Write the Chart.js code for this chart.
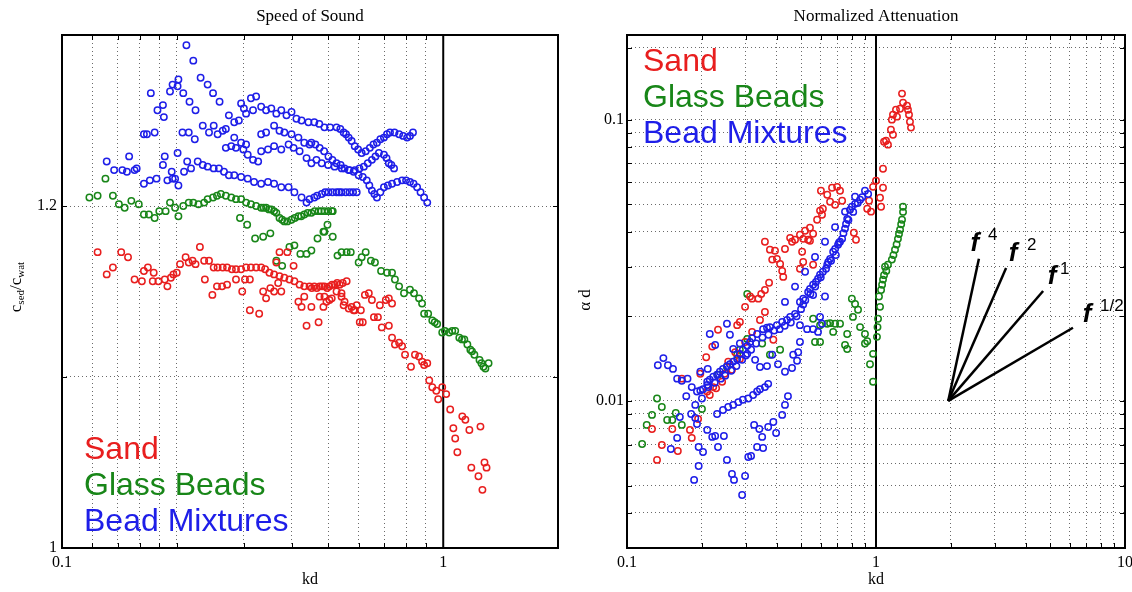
<!DOCTYPE html>
<html>
<head>
<meta charset="utf-8">
<title>Speed of Sound / Normalized Attenuation</title>
<script src="https://cdn.jsdelivr.net/npm/chart.js@4.4.1/dist/chart.umd.min.js"></script>
<style>
  html, body { margin: 0; padding: 0; background: #fff; overflow: hidden; }
  #wrap { position: relative; width: 1132px; height: 592px; }
  canvas { position: absolute; top: 0; }
  #sos { left: 0; }
  #att { left: 566px; }
</style>
</head>
<body>
<div id="wrap">
  <canvas id="sos" width="566" height="592"></canvas>
  <canvas id="att" width="580" height="592"></canvas>
</div>
<script>
// ---- Data: left panel, speed of sound ratio vs kd ----
const sosSand = [
  [0.124,1.173],[0.131,1.160],[0.136,1.164],[0.143,1.173],[0.149,1.170],[0.155,1.157],[0.162,1.156],
  [0.164,1.162],[0.168,1.164],[0.174,1.161],[0.173,1.156],[0.179,1.156],[0.186,1.157],[0.189,1.153],
  [0.193,1.158],[0.196,1.160],[0.200,1.161],[0.204,1.166],[0.211,1.170],[0.215,1.167],[0.220,1.168],
  [0.224,1.166],[0.230,1.176],[0.236,1.168],[0.243,1.168],[0.250,1.164],[0.256,1.164],[0.264,1.164],
  [0.271,1.164],[0.279,1.163],[0.286,1.163],[0.295,1.163],[0.304,1.164],[0.313,1.164],[0.323,1.164],
  [0.333,1.164],[0.341,1.163],[0.350,1.161],[0.360,1.160],[0.372,1.159],[0.383,1.158],[0.395,1.157],
  [0.407,1.156],[0.420,1.154],[0.432,1.153],[0.446,1.153],[0.459,1.153],[0.474,1.153],[0.488,1.153],
  [0.503,1.153],[0.519,1.154],[0.535,1.154],[0.558,1.156],
  [0.452,1.152],[0.466,1.152],[0.481,1.153],[0.496,1.152],[0.511,1.154],[0.527,1.155],[0.545,1.155],
  [0.237,1.157],[0.248,1.148],[0.255,1.153],[0.263,1.153],[0.271,1.154],[0.286,1.157],[0.297,1.150],
  [0.302,1.157],[0.311,1.157],[0.311,1.139],[0.329,1.137],[0.337,1.150],[0.343,1.146],[0.352,1.152],
  [0.360,1.150],[0.369,1.155],[0.376,1.150],[0.372,1.173],[0.390,1.173],[0.365,1.167],[0.405,1.165],
  [0.417,1.144],[0.425,1.141],[0.432,1.147],[0.451,1.141],[0.438,1.130],[0.471,1.132],[0.474,1.147],
  [0.485,1.141],[0.494,1.144],[0.510,1.146],[0.541,1.149],[0.551,1.144],[0.575,1.141],[0.586,1.139],
  [0.604,1.132],
  [0.488,1.147],[0.503,1.145],[0.525,1.150],[0.541,1.147],[0.548,1.142],[0.565,1.140],[0.582,1.139],
  [0.593,1.142],[0.608,1.139],[0.615,1.132],[0.623,1.148],[0.638,1.149],[0.650,1.145],[0.658,1.135],
  [0.674,1.135],[0.682,1.142],[0.690,1.129],[0.707,1.145],[0.720,1.146],[0.734,1.143],[0.720,1.130],
  [0.734,1.123],[0.747,1.119],[0.766,1.120],[0.780,1.118],[0.794,1.113],[0.823,1.106],[0.843,1.113],
  [0.864,1.112],[0.880,1.109],[0.908,1.108],[0.891,1.107],[0.919,1.098],[0.936,1.094],[0.959,1.092],
  [0.970,1.087],[0.994,1.094],[1.018,1.090],[1.043,1.081],[1.122,1.077],[1.143,1.075],[1.171,1.069],
  [1.252,1.071],[1.063,1.070],[1.075,1.064],[1.089,1.056],[1.185,1.047],[1.237,1.042],[1.283,1.050],
  [1.299,1.047],[1.267,1.034]
];
const sosGlass = [
  [0.130,1.216],[0.118,1.205],[0.124,1.206],[0.136,1.206],[0.141,1.201],[0.146,1.199],[0.152,1.203],
  [0.159,1.201],[0.164,1.195],[0.169,1.195],[0.175,1.193],[0.180,1.197],[0.187,1.197],[0.192,1.202],
  [0.198,1.199],[0.202,1.194],[0.208,1.200],[0.215,1.202],[0.221,1.202],[0.228,1.201],[0.236,1.202],
  [0.241,1.204],[0.249,1.205],[0.255,1.206],[0.261,1.207],[0.269,1.206],[0.278,1.205],[0.286,1.204],
  [0.295,1.204],[0.304,1.202],[0.313,1.201],[0.323,1.200],[0.333,1.199],[0.343,1.199],[0.354,1.198],
  [0.365,1.196],[0.372,1.193],[0.383,1.191],[0.400,1.192],[0.417,1.194],[0.432,1.195],[0.451,1.196],
  [0.471,1.197],[0.488,1.197],[0.510,1.197],[0.513,1.197],
  [0.338,1.199],[0.349,1.198],[0.360,1.197],[0.378,1.192],[0.390,1.191],[0.408,1.193],[0.424,1.194],
  [0.441,1.196],[0.460,1.197],[0.479,1.197],[0.499,1.197],
  [0.293,1.193],[0.306,1.189],[0.321,1.181],[0.337,1.182],[0.352,1.184],[0.365,1.168],[0.378,1.165],
  [0.395,1.176],[0.407,1.177],[0.422,1.172],[0.438,1.172],[0.451,1.174],[0.468,1.181],[0.485,1.185],
  [0.497,1.189],[0.513,1.182],[0.488,1.185],[0.528,1.171],[0.541,1.173],[0.558,1.173],[0.572,1.173],
  [0.600,1.167],[0.611,1.170],[0.626,1.173],[0.646,1.168],[0.662,1.167],[0.687,1.162],[0.712,1.161],
  [0.734,1.161],[0.747,1.157],[0.766,1.153],[0.789,1.149],[0.818,1.151],[0.838,1.149],[0.864,1.146],
  [0.880,1.143],[0.891,1.137],[0.913,1.137],[0.936,1.133],[0.964,1.131],[0.994,1.126],[1.037,1.126],
  [1.075,1.127],[1.102,1.123],[1.136,1.122],[1.157,1.119],[1.178,1.116],[1.207,1.113],[1.245,1.110],
  [1.275,1.106],[1.315,1.108],
  [0.950,1.132],[1.010,1.127],[1.056,1.127],[1.120,1.122],[1.190,1.115],[1.260,1.108],[1.290,1.105]
];
const sosMix = [
  [0.131,1.226],[0.137,1.221],[0.144,1.221],[0.148,1.220],[0.150,1.229],[0.155,1.221],[0.157,1.222],
  [0.164,1.213],[0.170,1.215],[0.177,1.216],[0.184,1.224],[0.186,1.229],[0.164,1.242],[0.167,1.242],
  [0.175,1.243],[0.171,1.266],[0.178,1.256],[0.184,1.259],[0.185,1.252],[0.192,1.267],[0.195,1.271],
  [0.201,1.270],[0.202,1.274],[0.212,1.294],[0.221,1.285],[0.231,1.275],[0.241,1.271],[0.249,1.266],
  [0.259,1.261],[0.208,1.266],[0.216,1.261],[0.224,1.256],[0.189,1.215],[0.195,1.216],[0.198,1.216],
  [0.202,1.212],[0.194,1.220],[0.201,1.231],[0.207,1.243],[0.215,1.243],[0.223,1.239],[0.209,1.220],
  [0.213,1.226],[0.218,1.222],
  [0.234,1.247],[0.243,1.243],[0.250,1.247],[0.256,1.242],[0.264,1.244],[0.269,1.245],[0.274,1.253],
  [0.283,1.249],[0.291,1.250],[0.295,1.260],[0.300,1.257],[0.313,1.263],[0.323,1.264],
  [0.304,1.254],[0.317,1.256],[0.333,1.258],[0.343,1.256],[0.354,1.257],[0.365,1.254],[0.376,1.256],
  [0.388,1.253],[0.400,1.255],[0.412,1.251],[0.425,1.250],[0.443,1.249],[0.459,1.249],[0.488,1.246],
  [0.525,1.246],[0.548,1.243],[0.565,1.240],[0.586,1.235],[0.611,1.231],[0.642,1.234],[0.670,1.237],
  [0.699,1.240],[0.725,1.243],[0.766,1.242],[0.804,1.240],[0.833,1.243],
  [0.473,1.248],[0.505,1.246],[0.537,1.245],[0.556,1.242],[0.575,1.238],[0.598,1.233],[0.626,1.232],
  [0.656,1.236],[0.684,1.239],[0.712,1.242],[0.745,1.243],[0.785,1.241],[0.818,1.241],
  [0.269,1.234],[0.278,1.235],[0.286,1.234],[0.299,1.233],[0.307,1.230],[0.317,1.227],[0.327,1.226],
  [0.333,1.232],[0.347,1.233],[0.360,1.235],[0.376,1.233],[0.393,1.236],[0.405,1.234],[0.420,1.232],
  [0.438,1.228],[0.451,1.225],
  [0.480,1.225],[0.519,1.223],[0.565,1.221],[0.600,1.218],[0.630,1.215],[0.650,1.209],[0.670,1.205],
  [0.699,1.211],[0.734,1.213],[0.780,1.215],[0.818,1.214],[0.854,1.211],[0.891,1.205],[0.908,1.202],
  [0.465,1.227],[0.499,1.224],[0.542,1.222],[0.582,1.220],[0.615,1.217],[0.640,1.212],[0.660,1.207],
  [0.684,1.208],[0.716,1.212],[0.757,1.214],[0.799,1.215],[0.836,1.213],[0.872,1.208],
  [0.283,1.240],[0.295,1.237],[0.304,1.236],[0.333,1.242],[0.343,1.243],[0.360,1.247],[0.372,1.244],
  [0.383,1.243],[0.400,1.242],[0.417,1.240],[0.432,1.237],[0.446,1.236],
  [0.451,1.237],[0.474,1.234],[0.500,1.229],[0.525,1.225],[0.551,1.222],[0.586,1.221],[0.619,1.223],
  [0.650,1.227],[0.678,1.231],[0.699,1.230],[0.720,1.225],[0.743,1.222],
  [0.462,1.236],[0.487,1.232],[0.512,1.227],[0.538,1.224],[0.568,1.221],[0.603,1.222],[0.634,1.225],
  [0.664,1.229],[0.710,1.228],[0.731,1.224],
  [0.227,1.226],[0.234,1.224],[0.241,1.223],[0.250,1.222],[0.258,1.222],[0.266,1.220],[0.274,1.218],
  [0.283,1.218],[0.295,1.217],[0.307,1.216],[0.319,1.214],[0.333,1.213],[0.347,1.214],[0.360,1.213],
  [0.376,1.211],[0.393,1.211],[0.407,1.208],[0.425,1.205],[0.438,1.202],[0.446,1.204],[0.459,1.205],
  [0.480,1.207],[0.500,1.208],[0.525,1.208],[0.541,1.208],[0.568,1.208],[0.593,1.208],
  [0.467,1.206],[0.490,1.208],[0.512,1.208],[0.533,1.208],[0.555,1.208],[0.580,1.208]
];

// ---- Data: right panel, normalized attenuation vs kd ----
const attSand = [
  [0.601,0.0559],[0.637,0.0541],[0.666,0.0573],[0.698,0.0577],[0.717,0.0559],[0.654,0.0511],[0.685,0.0498],
  [0.731,0.0515],[0.612,0.0482],[0.596,0.0475],[0.580,0.0441],[0.607,0.0459],[0.543,0.0413],[0.519,0.0403],
  [0.495,0.0390],[0.473,0.0374],[0.452,0.0380],[0.431,0.0347],[0.460,0.0368],[0.510,0.0377],[0.534,0.0374],
  [0.559,0.0393],[0.358,0.0368],[0.375,0.0345],[0.393,0.0342],[0.383,0.0318],[0.400,0.0320],[0.412,0.0307],
  [0.420,0.0290],[0.424,0.0276],[0.543,0.0371],[0.505,0.0339],[0.495,0.0295],[0.559,0.0305],[0.372,0.0263],
  [0.358,0.0248],[0.346,0.0240],[0.312,0.0235],[0.337,0.0231],[0.815,0.0396],[0.831,0.0374],[0.510,0.0312],
  [1.272,0.1238],[1.284,0.1150],[1.332,0.1121],[1.344,0.1085],[1.249,0.1094],[1.203,0.1085],[1.170,0.1042],
  [1.158,0.1000],[1.214,0.1025],[1.357,0.1042],[1.369,0.0984],[1.382,0.0937],[1.148,0.0921],[1.170,0.0884],
  [1.097,0.0842],[1.117,0.0815],[1.077,0.0835],[1.067,0.0669],[1.000,0.0607],[0.973,0.0577],[1.067,0.0573],
  [1.038,0.0528],[1.048,0.0490],[0.938,0.0515],[0.922,0.0482],[0.955,0.0471],
  [0.132,0.00617],[0.126,0.00795],[0.138,0.00697],[0.152,0.00795],[0.160,0.00664],[0.179,0.00789],[0.182,0.00739],
  [0.193,0.00863],[0.210,0.0108],[0.222,0.0112],[0.247,0.0125],[0.264,0.0129],[0.284,0.0141],[0.166,0.0120],
  [0.197,0.0125],[0.208,0.0143],[0.220,0.0156],[0.232,0.0179],[0.277,0.0186],[0.284,0.0191],[0.298,0.0216],
  [0.318,0.0231],[0.387,0.0165],[0.255,0.0138],[0.272,0.0149],[0.298,0.0162],[0.318,0.0176],[0.342,0.0194],
  [0.358,0.0207],[0.215,0.0105],[0.228,0.0111],[0.241,0.0117]
];
const attGlass = [
  [0.115,0.00703],[0.120,0.00822],[0.126,0.00892],[0.132,0.0102],[0.138,0.00952],[0.145,0.00856],[0.152,0.00856],
  [0.157,0.00906],[0.166,0.00822],[0.200,0.00936],[0.232,0.0124],[0.252,0.0132],[0.277,0.0146],[0.284,0.0152],
  [0.304,0.0166],[0.349,0.0160],[0.375,0.0146],[0.412,0.0152],[0.559,0.0196],[0.596,0.0186],[0.637,0.0188],
  [0.654,0.0189],[0.685,0.0188],[0.717,0.0188],[0.766,0.0173],[0.808,0.0199],[0.863,0.0183],[0.922,0.0163],
  [0.903,0.0173],[0.973,0.0147],[0.946,0.0135],[0.973,0.0117],[0.800,0.0231],[0.824,0.0221],[0.847,0.0211],
  [0.751,0.0158],[0.766,0.0153],[0.596,0.0162],[0.569,0.0162],[0.673,0.0176],[0.304,0.0240],
  [1.284,0.0490],[1.272,0.0441],[1.249,0.0406],[1.225,0.0377],[1.192,0.0345],[1.158,0.0318],[1.117,0.0305],
  [1.087,0.0300],[1.067,0.0270],[1.058,0.0259],[1.028,0.0235],[1.019,0.0196],[1.009,0.0169],[0.903,0.0160],
  [1.038,0.0216],[1.284,0.0470],[1.262,0.0425],[1.237,0.0392],[1.210,0.0360],[1.175,0.0330],[1.100,0.0290],
  [1.077,0.0280],[1.048,0.0248],[1.014,0.0183]
];
const attMix = [
  [0.903,0.0559],[0.863,0.0519],[0.824,0.0502],[0.786,0.0478],[0.766,0.0444],[0.751,0.0410],[0.731,0.0377],
  [0.704,0.0359],[0.673,0.0339],[0.654,0.0320],[0.637,0.0305],[0.612,0.0288],[0.585,0.0272],[0.559,0.0259],
  [0.534,0.0244],[0.510,0.0231],[0.559,0.0238],[0.510,0.0220],[0.473,0.0204],[0.439,0.0194],[0.400,0.0186],
  [0.375,0.0183],[0.352,0.0180],[0.333,0.0173],[0.312,0.0162],[0.292,0.0152],[0.277,0.0141],[0.259,0.0135],
  [0.243,0.0130],[0.230,0.0124],[0.215,0.0119],[0.202,0.0110],[0.191,0.0108],
  [0.930,0.0544],[0.800,0.0490],[0.758,0.0426],[0.717,0.0368],[0.685,0.0347],[0.643,0.0312],[0.596,0.0281],
  [0.574,0.0265],[0.543,0.0250],[0.495,0.0225],[0.452,0.0199],[0.420,0.0191],[0.365,0.0182],[0.318,0.0167],
  [0.304,0.0157],[0.284,0.0147],[0.267,0.0138],[0.252,0.0133],[0.236,0.0127],[0.222,0.0122],[0.210,0.0114],
  [0.197,0.0109],
  [0.824,0.0532],[0.751,0.0471],[0.685,0.0415],[0.624,0.0368],[0.569,0.0325],[0.519,0.0288],[0.473,0.0255],
  [0.431,0.0225],
  [0.880,0.0530],[0.845,0.0505],[0.810,0.0470],[0.775,0.0440],[0.740,0.0395],[0.710,0.0365],[0.690,0.0330],
  [0.660,0.0315],[0.630,0.0295],[0.600,0.0275],[0.570,0.0255],[0.545,0.0240],[0.520,0.0228],[0.500,0.0212],
  [0.480,0.0200],[0.455,0.0190],[0.430,0.0185],[0.410,0.0180],[0.390,0.0178],[0.370,0.0172],[0.350,0.0168],
  [0.330,0.0160],[0.315,0.0152],[0.300,0.0145],[0.290,0.0140],[0.275,0.0133],[0.262,0.0128],[0.248,0.0123],
  [0.238,0.0120],[0.225,0.0116],[0.212,0.0112],
  [0.321,0.0105],[0.307,0.0102],[0.292,0.0101],[0.280,0.0099],[0.267,0.00968],[0.255,0.00952],[0.243,0.00929],
  [0.230,0.00899],[0.333,0.0108],[0.342,0.0110],[0.358,0.0112],[0.369,0.0115],
  [0.133,0.0134],[0.140,0.0142],[0.146,0.0134],[0.153,0.0130],[0.159,0.0120],[0.166,0.0118],[0.175,0.0120],
  [0.182,0.0112],[0.173,0.0104],[0.181,0.00899],[0.163,0.00877],[0.159,0.00739],[0.150,0.00675],[0.188,0.00870],
  [0.191,0.00828],[0.194,0.00686],[0.202,0.00658],[0.194,0.00587],[0.186,0.00524],[0.210,0.00789],[0.220,0.00745],
  [0.226,0.00750],[0.232,0.00686],[0.245,0.00750],[0.252,0.00617],[0.264,0.00550],[0.269,0.00524],[0.290,0.00463],
  [0.298,0.00541],[0.307,0.00632],[0.315,0.00637],[0.324,0.00822],[0.340,0.00795],[0.349,0.00745],[0.333,0.00686],
  [0.352,0.00680],[0.369,0.00808],[0.387,0.00842],[0.397,0.00769],[0.420,0.00892],[0.431,0.00968],[0.443,0.0104],
  [0.460,0.0131],[0.482,0.0139],[0.431,0.0127],[0.404,0.0135],[0.383,0.0146],[0.365,0.0133],[0.342,0.0132],
  [0.327,0.0140],[0.304,0.0147],[0.284,0.0160],[0.267,0.0153],[0.259,0.0172],[0.252,0.0188],[0.215,0.0173],
  [0.226,0.0158],[0.211,0.0130],[0.197,0.0127],[0.210,0.0117],[0.200,0.0102],[0.188,0.00968],[0.495,0.0186],
  [0.529,0.0180],[0.559,0.0180],[0.585,0.0176],[0.596,0.0199],[0.607,0.0188],[0.624,0.0235],[0.495,0.0162],
  [0.487,0.0149],[0.465,0.0146]
];

// reference slopes drawn from a common origin
const slopeOrigin = [1.95, 0.01];
const slopeEnds = [[2.59, 0.032], [3.33, 0.0297], [4.69, 0.0246], [6.18, 0.0182]];
const slopeNames = ['4', '2', '1', '1/2'];

// axes: grid positions and labelled ticks
const sosXGrid = [0.1, 0.12, 0.14, 0.16, 0.18, 0.2, 0.3, 0.4, 0.5, 0.6, 0.7, 0.8, 0.9, 1, 2];
const sosYGrid = [1, 1.1, 1.2, 1.3];
const sosXLabels = ['0.1', '1'];
const sosYLabels = ['1', '1.2'];
const attXGrid = [0.1, 0.2, 0.3, 0.4, 0.5, 0.6, 0.7, 0.8, 0.9, 1, 2, 3, 4, 5, 6, 7, 8, 9, 10];
const attYGrid = [0.003, 0.004, 0.005, 0.006, 0.007, 0.008, 0.009, 0.01, 0.02, 0.03, 0.04, 0.05,
                  0.06, 0.07, 0.08, 0.09, 0.1, 0.18, 0.2];
const attXLabels = ['0.1', '1', '10'];
const attYLabels = ['0.01', '0.1'];

const legendNames = ['Sand', 'Glass Beads', 'Bead Mixtures'];

// ---- Styles ----
const RED = 'rgb(232,30,30)';
const GREEN = 'rgb(24,134,24)';
const BLUE = 'rgb(30,30,232)';
const legendColors = [RED, GREEN, BLUE];
const GRID = '#6a6a6a';
const SERIF = '"Liberation Serif", "Times New Roman", serif';
const SANS = '"Liberation Sans", Arial, sans-serif';

function pts(arr) {
    return arr.map(p => ({ x: p[0], y: p[1] }));
}

function markerSet(data, color, order) {
    return {
        data: pts(data),
        borderColor: color,
        backgroundColor: 'transparent',
        pointRadius: 3.2,
        pointHoverRadius: 3.2,
        pointBorderWidth: 1.5,
        showLine: false,
        order: order
    };
}

function lineSet(data, width, order) {
    return {
        data: pts(data),
        borderColor: '#000',
        borderWidth: width,
        pointRadius: 0,
        showLine: true,
        fill: false,
        order: order
    };
}

function setTicks(list) {
    return function(axis) { axis.ticks = list.map(v => ({ value: v })); };
}

function labelFrom(list) {
    return function(v) { return list.includes(String(v)) ? String(v) : ''; };
}

// frame, inward ticks, titles and in-plot legend
const decor = {
    id: 'decor',
    afterDatasetsDraw(chart) {
        const { ctx, chartArea: a, scales: { x, y } } = chart;
        ctx.save();
        ctx.strokeStyle = '#000';
        ctx.lineWidth = 1;
        ctx.beginPath();
        x.ticks.forEach(t => {
            if (t.value <= x.min || t.value >= x.max) return;
            const px = Math.round(x.getPixelForValue(t.value)) + 0.5;
            ctx.moveTo(px, a.bottom); ctx.lineTo(px, a.bottom - 5);
            ctx.moveTo(px, a.top); ctx.lineTo(px, a.top + 5);
        });
        y.ticks.forEach(t => {
            if (t.value <= y.min || t.value >= y.max) return;
            const py = Math.round(y.getPixelForValue(t.value)) + 0.5;
            ctx.moveTo(a.left, py); ctx.lineTo(a.left + 5, py);
            ctx.moveTo(a.right, py); ctx.lineTo(a.right - 5, py);
        });
        ctx.stroke();
        ctx.lineWidth = 2;
        ctx.strokeRect(a.left, a.top, a.right - a.left, a.bottom - a.top);
        ctx.restore();
    },
    afterDraw(chart, args, o) {
        const { ctx, chartArea: a } = chart;
        const cx = (a.left + a.right) / 2;
        ctx.save();
        ctx.fillStyle = '#000';
        ctx.textAlign = 'center';
        ctx.textBaseline = 'middle';
        ctx.font = '17px ' + SERIF;
        ctx.fillText(o.title, cx, 17);
        ctx.font = '16px ' + SERIF;
        ctx.fillText('kd', cx, a.bottom + 32);
        o.yTitle(ctx);

        ctx.font = '32px ' + SANS;
        ctx.textAlign = 'left';
        ctx.textBaseline = 'alphabetic';
        legendNames.forEach((name, i) => {
            ctx.fillStyle = legendColors[i];
            ctx.fillText(name, o.legendX, o.legendY + i * 36);
        });
        if (o.extra) o.extra(chart);
        ctx.restore();
    }
};

function sosYTitle(ctx) {
    const big = '17px ' + SERIF, small = '11px ' + SERIF;
    const parts = [['c', big, 0], ['sed', small, 4], ['/', big, 0], ['c', big, 0], ['wat', small, 4]];
    ctx.save();
    ctx.translate(17, 287);
    ctx.rotate(-Math.PI / 2);
    ctx.fillStyle = '#000';
    ctx.textAlign = 'left';
    ctx.textBaseline = 'middle';
    let w = 0;
    parts.forEach(p => { ctx.font = p[1]; w += ctx.measureText(p[0]).width; });
    let px = -w / 2;
    parts.forEach(p => {
        ctx.font = p[1];
        ctx.fillText(p[0], px, p[2]);
        px += ctx.measureText(p[0]).width;
    });
    ctx.restore();
}

function attYTitle(ctx) {
    ctx.save();
    ctx.translate(20, 300);
    ctx.rotate(-Math.PI / 2);
    ctx.fillStyle = '#000';
    ctx.textAlign = 'center';
    ctx.textBaseline = 'middle';
    ctx.font = '17px ' + SERIF;
    ctx.fillText('\u03b1 d', 0, 0);
    ctx.restore();
}

// f^n labels next to the end of each slope line
const fOffsets = [[-4, -15], [7, -14], [9, -14], [14, -13]];
const supOffsets = [[13, -9], [14, -9], [8, -8], [13, -8]];

function slopeLabels(chart) {
    const { ctx, scales: { x, y } } = chart;
    ctx.fillStyle = '#000';
    slopeEnds.forEach((e, i) => {
        const px = x.getPixelForValue(e[0]) + fOffsets[i][0];
        const py = y.getPixelForValue(e[1]) + fOffsets[i][1];
        ctx.font = 'italic bold 26px ' + SANS;
        ctx.textAlign = 'center';
        ctx.textBaseline = 'middle';
        ctx.fillText('f', px, py);
        ctx.font = '17px ' + SANS;
        ctx.textAlign = 'left';
        ctx.fillText(slopeNames[i], px + supOffsets[i][0], py + supOffsets[i][1]);
    });
}

function axisCommon(min, max, type, grid, labels, gridColor, pad) {
    return {
        type: type,
        min: min,
        max: max,
        afterBuildTicks: setTicks(grid),
        ticks: {
            autoSkip: false,
            maxRotation: 0,
            color: '#000',
            padding: pad,
            font: { family: SERIF, size: 16 },
            callback: labelFrom(labels)
        },
        grid: { color: gridColor, lineWidth: 1, drawTicks: false },
        border: { display: false, dash: [1, 3] }
    };
}

Chart.defaults.animation = false;

// Left: Speed of Sound
const sosX = axisCommon(0.1, 2, 'logarithmic', sosXGrid, sosXLabels,
    c => (c.tick && c.tick.value > 0.1 && c.tick.value < 1) ? GRID : 'transparent', 5);
sosX.afterFit = s => { s.height = 44; };
const sosY = axisCommon(1, 1.3, 'linear', sosYGrid, sosYLabels,
    c => (c.tick && c.tick.value > 1 && c.tick.value < 1.3) ? GRID : 'transparent', 5);
sosY.afterFit = s => { s.width = 62; };

new Chart(document.getElementById('sos'), {
    type: 'scatter',
    data: {
        datasets: [
            markerSet(sosSand, RED, 1),
            markerSet(sosGlass, GREEN, 2),
            markerSet(sosMix, BLUE, 0),
            lineSet([[1, 1], [1, 1.3]], 2, 5)
        ]
    },
    options: {
        responsive: false,
        devicePixelRatio: 1,
        layout: { padding: { top: 35, right: 8, left: 0, bottom: 0 } },
        scales: { x: sosX, y: sosY },
        plugins: {
            legend: { display: false },
            tooltip: { enabled: false },
            decor: { title: 'Speed of Sound', yTitle: sosYTitle, legendX: 84, legendY: 459 }
        }
    },
    plugins: [decor]
});

// Right: Normalized Attenuation
const attX = axisCommon(0.1, 10, 'logarithmic', attXGrid, attXLabels,
    c => (c.tick && c.tick.value > 0.1 && c.tick.value < 10 && c.tick.value !== 1) ? GRID : 'transparent', 5);
attX.afterFit = s => { s.height = 44; };
const attY = axisCommon(0.003, 0.2, 'logarithmic', attYGrid, attYLabels,
    c => (c.tick && c.tick.value > 0.003 && c.tick.value < 0.2) ? GRID : 'transparent', 3);
attY.afterFit = s => { s.width = 61; };

const slopeSets = slopeEnds.map(e => lineSet([slopeOrigin, e], 2.5, 4));

new Chart(document.getElementById('att'), {
    type: 'scatter',
    data: {
        datasets: [
            markerSet(attMix, BLUE, 0),
            markerSet(attSand, RED, 1),
            markerSet(attGlass, GREEN, 2),
            lineSet([[1, 0.003], [1, 0.2]], 2, 5)
        ].concat(slopeSets)
    },
    options: {
        responsive: false,
        devicePixelRatio: 1,
        layout: { padding: { top: 35, right: 21, left: 0, bottom: 0 } },
        scales: { x: attX, y: attY },
        plugins: {
            legend: { display: false },
            tooltip: { enabled: false },
            decor: { title: 'Normalized Attenuation', yTitle: attYTitle, legendX: 77, legendY: 71, extra: slopeLabels }
        }
    },
    plugins: [decor]
});
</script>
</body>
</html>
